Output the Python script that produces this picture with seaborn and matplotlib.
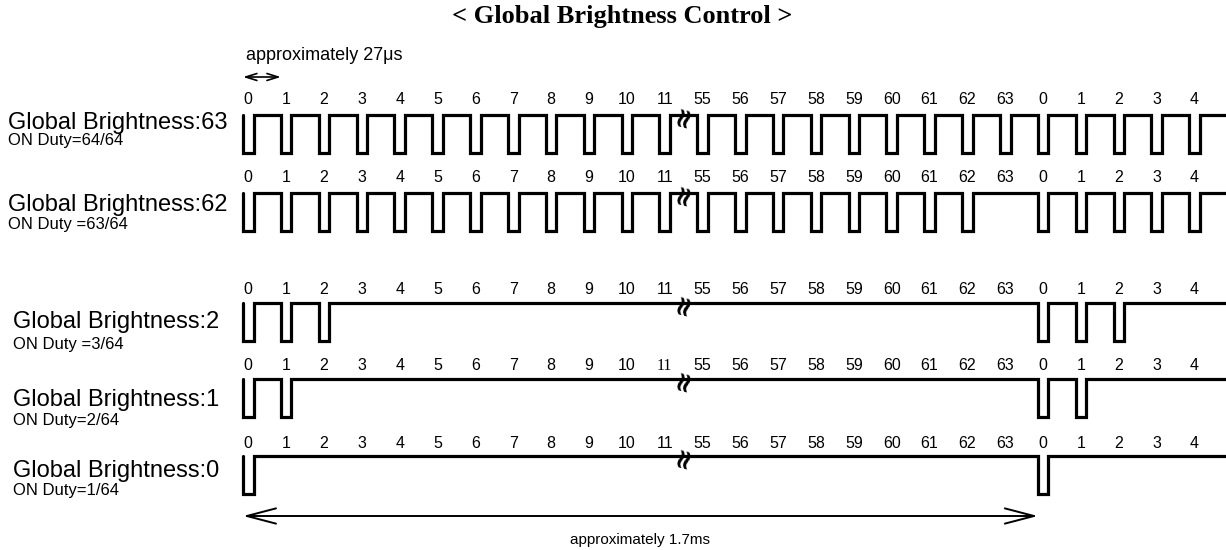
import pandas as pd
import matplotlib
matplotlib.use("Agg")
from matplotlib import pyplot as plt
import seaborn as sns

# --- data ---
slot_labels = [0, 1, 2, 3, 4, 5, 6, 7, 8, 9, 10, 11,
               55, 56, 57, 58, 59, 60, 61, 62, 63,
               0, 1, 2, 3, 4]
row_names = ["Global Brightness:63", "Global Brightness:62", "Global Brightness:2",
             "Global Brightness:1", "Global Brightness:0"]
duty_texts = ["ON Duty=64/64", "ON Duty =63/64", "ON Duty =3/64", "ON Duty=2/64", "ON Duty=1/64"]
brightness = [63, 62, 2, 1, 0]
title_text = "< Global Brightness Control >"
period_text = "approximately 27\u03bcs"
frame_text = "approximately 1.7ms"
frame_slots = 21   # arrow spans one full 64-step cycle (slot 0 -> next slot 0)

# --- layout (pixels) ---
W, H = 1226, 550
X0, P = 243.0, 37.85        # x of first pulse, pixels per slot
PW = 0.28                   # width of the low pulse, in slots
row_top = [115, 193, 303, 379, 456]
row_amp = 38
num_dy = [-15, -15, -13, -13, -13]
name_x = [8, 8, 13, 13, 13]
name_y = [123, 205, 322, 400, 471]
duty_y = [141, 224, 344, 421, 490]


def sx(xp):
    return (xp - X0) / P


sns.set_style("white")
plt.rcParams['font.family'] = ['Liberation Sans', 'DejaVu Sans']
plt.rcParams['text.color'] = 'black'

fig = plt.figure(figsize=(W / 100, H / 100), dpi=100)
ax = fig.add_axes([0, 0, 1, 1])
ax.set_xlim(sx(0), sx(W))
ax.set_ylim(H, 0)
ax.axis('off')

# waveforms
recs = []
for r, (name, b) in enumerate(zip(row_names, brightness)):
    hi = row_top[r]
    lo = hi + row_amp
    for j, s in enumerate(slot_labels):
        if s <= b:
            recs += [(name, j, hi), (name, j, lo), (name, j + PW, lo), (name, j + PW, hi)]
    recs.append((name, sx(W), hi))
df = pd.DataFrame(recs, columns=["row", "x", "y"])
sns.lineplot(data=df, x="x", y="y", units="row", estimator=None, sort=False,
             color="black", lw=2.3, legend=False, ax=ax, solid_joinstyle="miter")

# slot numbers
for r in range(len(row_names)):
    for j, s in enumerate(slot_labels):
        fam = ['Liberation Serif'] if (r == 3 and s == 11) else ['Liberation Sans']
        ax.text(j + PW / 2, row_top[r] + num_dy[r], str(s), ha='center', va='center',
                fontsize=11.5, family=fam)

# break marks between slot 11 and 55
i_br = slot_labels.index(55)
xb = (i_br - 1 + PW + i_br) / 2
for r in range(len(row_names)):
    ax.text(xb, row_top[r] + 1, '\u2248', ha='center', va='center', rotation=75,
            rotation_mode='anchor', fontsize=20, family=['DejaVu Serif'], weight='bold')

# row labels
for r in range(len(row_names)):
    ax.text(sx(name_x[r]), name_y[r], row_names[r], ha='left', va='center', fontsize=17)
    ax.text(sx(name_x[r]), duty_y[r], duty_texts[r], ha='left', va='center', fontsize=12)

# title
ax.text(sx(622), 17, title_text, ha='center', va='center', fontsize=19,
        family=['Liberation Serif'], weight='bold')

# period arrow
ax.text(0.08, 55, period_text, ha='left', va='center', fontsize=13)
ax.annotate('', xy=(1, 77), xytext=(0, 77),
            arrowprops=dict(arrowstyle='<->,head_length=0.8,head_width=0.25', lw=1.2,
                            shrinkA=0, shrinkB=0, color='black'))

# frame arrow
ax.annotate('', xy=(frame_slots, 516), xytext=(0, 516),
            arrowprops=dict(arrowstyle='<->,head_length=2.1,head_width=0.55', lw=1.4,
                            shrinkA=0, shrinkB=0, color='black'))
ax.text(frame_slots / 2, 540, frame_text, ha='center', va='center', fontsize=11)

fig.savefig("out.png", dpi=100)
